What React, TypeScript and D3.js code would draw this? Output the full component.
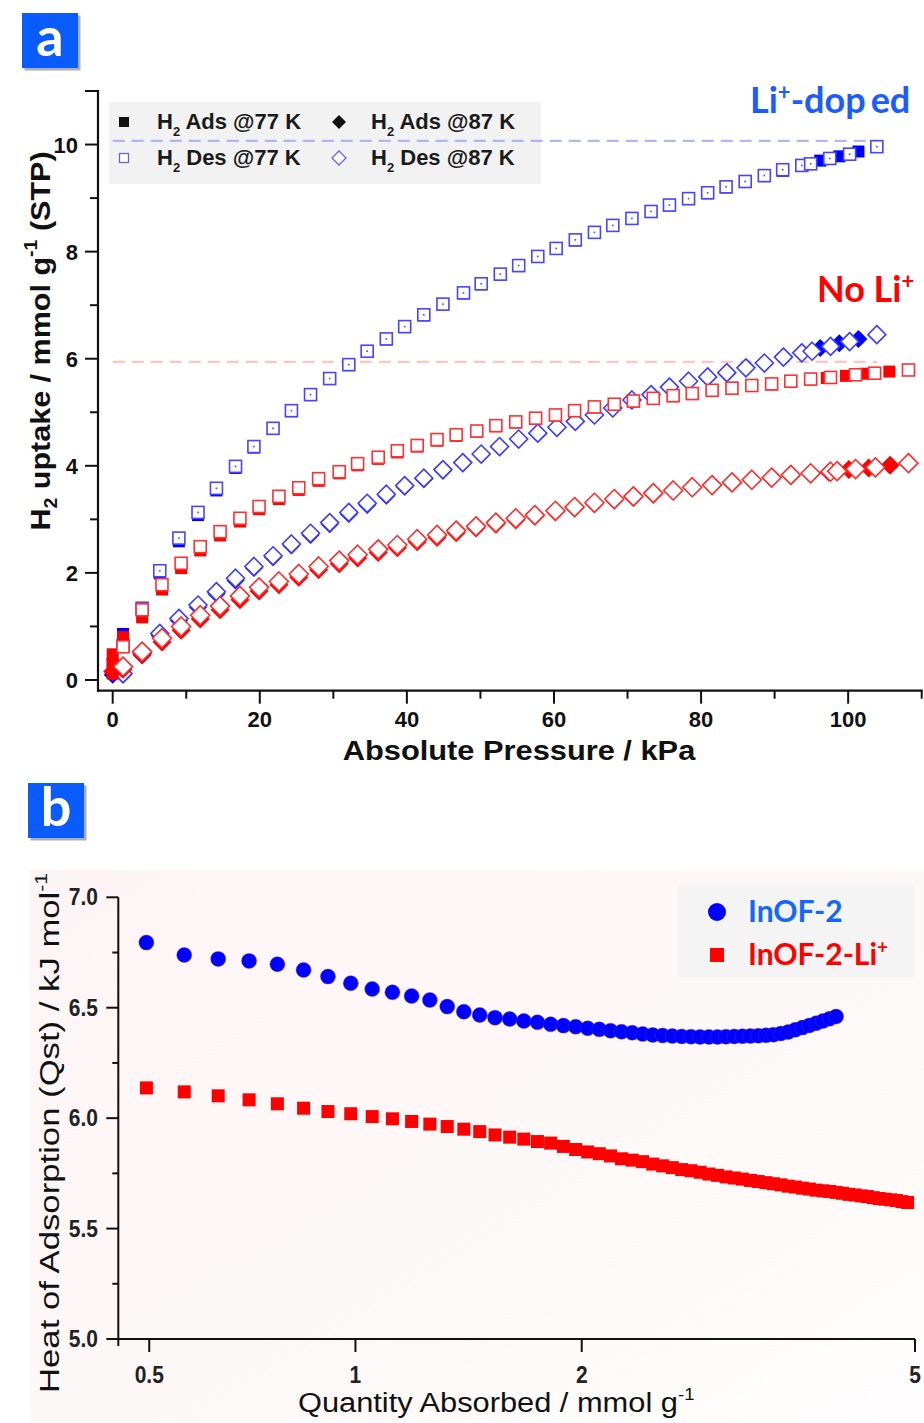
import React from 'react';
import * as d3 from 'd3';

const W = 924;
const H = 1423;

// ---------- Panel a: H2 isotherms (pressure kPa, uptake mmol/g) ----------
// Li+-doped, 77 K
const LI77_ADS_P = [0, 1.4, 4.0, 6.4, 9.0, 11.6, 14.1, 16.7, 19.2, 21.8, 24.3, 26.9, 29.5, 32.1, 34.6, 37.2, 39.7, 42.3, 44.9, 47.7, 50.1, 52.7, 55.2, 57.8, 60.3, 62.9, 65.5, 68.0, 70.6, 73.2, 75.7, 78.3, 80.9, 83.4, 86.0, 88.6, 91.1, 93.7, 96.2, 98.8, 101.4];
const LI77_ADS_Q = [0.30, 0.86, 1.30, 1.99, 2.59, 3.08, 3.54, 3.96, 4.34, 4.69, 5.02, 5.32, 5.62, 5.88, 6.13, 6.36, 6.59, 6.81, 7.01, 7.22, 7.39, 7.57, 7.73, 7.90, 8.05, 8.21, 8.35, 8.48, 8.61, 8.74, 8.86, 8.98, 9.09, 9.20, 9.30, 9.41, 9.51, 9.60, 9.70, 9.78, 9.87];
const LI77_DES_P = [1.4, 4.0, 6.4, 9.0, 11.6, 14.1, 16.7, 19.2, 21.8, 24.3, 26.9, 29.5, 32.1, 34.6, 37.2, 39.7, 42.3, 44.9, 47.7, 50.1, 52.7, 55.2, 57.8, 60.3, 62.9, 65.5, 68.0, 70.6, 73.2, 75.7, 78.3, 80.9, 83.4, 86.0, 88.6, 91.1, 93.7, 94.9, 97.5, 100.2, 103.9];
const LI77_DES_Q = [0.64, 1.34, 2.04, 2.65, 3.13, 3.58, 3.99, 4.36, 4.70, 5.03, 5.33, 5.63, 5.89, 6.14, 6.37, 6.60, 6.82, 7.02, 7.23, 7.40, 7.58, 7.74, 7.91, 8.06, 8.22, 8.36, 8.49, 8.62, 8.75, 8.87, 8.99, 9.10, 9.21, 9.31, 9.42, 9.53, 9.61, 9.64, 9.74, 9.82, 9.96];

// Li+-doped, 87 K
const LI87_ADS_P = [0, 1.4, 4.0, 6.4, 9.0, 11.6, 14.1, 16.7, 19.2, 21.8, 24.3, 26.9, 29.5, 32.1, 34.6, 37.2, 39.7, 42.3, 44.9, 47.6, 50.1, 52.6, 55.2, 57.8, 60.4, 62.9, 65.5, 68.0, 70.6, 73.2, 75.7, 78.3, 80.9, 83.5, 86.1, 88.6, 91.2, 93.7, 96.2, 98.8, 101.4];
const LI87_ADS_Q = [0.10, 0.10, 0.46, 0.83, 1.11, 1.36, 1.61, 1.86, 2.09, 2.29, 2.51, 2.71, 2.91, 3.10, 3.27, 3.44, 3.61, 3.75, 3.91, 4.05, 4.21, 4.35, 4.49, 4.60, 4.71, 4.82, 4.94, 5.07, 5.22, 5.32, 5.46, 5.57, 5.65, 5.73, 5.82, 5.91, 6.02, 6.10, 6.20, 6.29, 6.37];
const LI87_DES_P = [1.4, 4.0, 6.4, 9.0, 11.6, 14.1, 16.7, 19.2, 21.8, 24.3, 26.9, 29.5, 32.1, 34.6, 37.2, 39.7, 42.3, 44.9, 47.6, 50.1, 52.6, 55.2, 57.8, 60.4, 62.9, 65.5, 68.0, 70.6, 73.2, 75.7, 78.3, 80.9, 83.5, 86.1, 88.6, 91.2, 93.7, 95.1, 97.6, 100.2, 103.9];
const LI87_DES_Q = [0.12, 0.50, 0.87, 1.15, 1.40, 1.65, 1.90, 2.12, 2.32, 2.54, 2.74, 2.94, 3.13, 3.30, 3.47, 3.63, 3.77, 3.93, 4.06, 4.22, 4.36, 4.50, 4.61, 4.72, 4.83, 4.95, 5.08, 5.23, 5.33, 5.47, 5.58, 5.66, 5.74, 5.83, 5.92, 6.03, 6.11, 6.14, 6.23, 6.32, 6.45];

// No Li+, 77 K
const NO77_ADS_P = [0, 0, 0, 1.4, 4.0, 6.7, 9.3, 11.9, 14.6, 17.3, 19.9, 22.6, 25.3, 28.0, 30.8, 33.3, 36.1, 38.7, 41.4, 44.1, 46.7, 49.5, 52.1, 54.8, 57.5, 60.2, 62.8, 65.5, 68.2, 70.8, 73.5, 76.2, 78.8, 81.5, 84.2, 86.9, 89.6, 92.2, 94.9, 97.1, 99.7, 102.4, 105.6];
const NO77_ADS_Q = [0.12, 0.30, 0.48, 0.80, 1.17, 1.69, 2.09, 2.42, 2.70, 2.96, 3.19, 3.38, 3.55, 3.72, 3.86, 4.01, 4.13, 4.25, 4.36, 4.47, 4.56, 4.64, 4.74, 4.81, 4.88, 4.94, 5.02, 5.09, 5.14, 5.20, 5.25, 5.30, 5.34, 5.40, 5.44, 5.49, 5.52, 5.57, 5.61, 5.64, 5.68, 5.72, 5.76];
const NO77_DES_P = [1.4, 4.0, 6.7, 9.3, 11.9, 14.6, 17.3, 19.9, 22.6, 25.3, 28.0, 30.8, 33.3, 36.1, 38.7, 41.4, 44.1, 46.7, 49.5, 52.1, 54.8, 57.5, 60.2, 62.8, 65.5, 68.2, 70.8, 73.5, 76.2, 78.8, 81.5, 84.2, 86.9, 89.6, 92.2, 94.9, 97.6, 101.0, 103.6, 108.2];
const NO77_DES_Q = [0.62, 1.31, 1.78, 2.18, 2.49, 2.77, 3.02, 3.24, 3.43, 3.59, 3.76, 3.89, 4.04, 4.16, 4.28, 4.38, 4.49, 4.58, 4.65, 4.75, 4.82, 4.89, 4.95, 5.03, 5.10, 5.15, 5.21, 5.26, 5.31, 5.35, 5.41, 5.45, 5.50, 5.53, 5.58, 5.62, 5.65, 5.70, 5.73, 5.79];

// No Li+, 87 K
const NO87_ADS_P = [0, 1.4, 4.0, 6.7, 9.3, 11.9, 14.6, 17.3, 19.9, 22.6, 25.3, 28.0, 30.8, 33.3, 36.1, 38.7, 41.4, 44.1, 46.7, 49.4, 52.1, 54.8, 57.4, 60.2, 62.8, 65.5, 68.2, 70.8, 73.5, 76.2, 78.8, 81.5, 84.2, 86.9, 89.6, 92.2, 94.9, 97.4, 100.1, 102.8, 105.7];
const NO87_ADS_Q = [0.16, 0.20, 0.47, 0.71, 0.93, 1.14, 1.31, 1.50, 1.66, 1.78, 1.92, 2.06, 2.17, 2.28, 2.38, 2.47, 2.58, 2.66, 2.75, 2.84, 2.91, 2.99, 3.06, 3.14, 3.21, 3.29, 3.36, 3.41, 3.47, 3.53, 3.59, 3.63, 3.68, 3.73, 3.77, 3.82, 3.85, 3.88, 3.93, 3.96, 4.01];
const NO87_DES_P = [1.4, 4.0, 6.7, 9.3, 11.9, 14.6, 17.3, 19.9, 22.6, 25.3, 28.0, 30.8, 33.3, 36.1, 38.7, 41.4, 44.1, 46.7, 49.4, 52.1, 54.8, 57.4, 60.2, 62.8, 65.5, 68.2, 70.8, 73.5, 76.2, 78.8, 81.5, 84.2, 86.9, 89.6, 92.2, 94.9, 97.6, 98.5, 101.0, 103.7, 108.2];
const NO87_DES_Q = [0.25, 0.53, 0.78, 1.00, 1.21, 1.38, 1.57, 1.73, 1.84, 1.98, 2.12, 2.23, 2.34, 2.44, 2.52, 2.63, 2.71, 2.79, 2.87, 2.94, 3.02, 3.08, 3.16, 3.23, 3.31, 3.38, 3.43, 3.49, 3.54, 3.60, 3.64, 3.69, 3.74, 3.78, 3.83, 3.86, 3.89, 3.90, 3.94, 3.97, 4.05];

// Saturation guide levels (dashed lines)
const LI_LEVEL = 10.07;
const NO_LEVEL = 5.94;

const A_X_MAJOR = [0, 20, 40, 60, 80, 100];
const A_X_MINOR = [10, 30, 50, 70, 90, 110];
const A_Y_MAJOR = [0, 2, 4, 6, 8, 10];
const A_Y_MINOR = [1, 3, 5, 7, 9, 11];

// ---------- Panel b: isosteric heat of adsorption ----------
const INOF_N = [0.495, 0.565, 0.635, 0.705, 0.775, 0.845, 0.915, 0.985, 1.055, 1.125, 1.195, 1.265, 1.335, 1.405, 1.475, 1.545, 1.615, 1.685, 1.755, 1.825, 1.895, 1.965, 2.035, 2.105, 2.175, 2.245, 2.315, 2.385, 2.455, 2.525, 2.595, 2.665, 2.735, 2.805, 2.875, 2.945, 3.015, 3.085, 3.155, 3.225, 3.295, 3.365, 3.435, 3.505, 3.575, 3.645, 3.715, 3.785, 3.855, 3.925, 3.995, 4.065];
const INOF_Q = [6.795, 6.739, 6.721, 6.712, 6.697, 6.671, 6.641, 6.611, 6.585, 6.570, 6.553, 6.535, 6.505, 6.482, 6.467, 6.455, 6.449, 6.440, 6.434, 6.425, 6.419, 6.414, 6.407, 6.402, 6.396, 6.391, 6.387, 6.381, 6.377, 6.374, 6.372, 6.370, 6.369, 6.368, 6.368, 6.368, 6.369, 6.370, 6.371, 6.372, 6.373, 6.375, 6.378, 6.383, 6.390, 6.400, 6.410, 6.420, 6.430, 6.440, 6.450, 6.460];

const INOFLI_N = [0.495, 0.565, 0.635, 0.705, 0.775, 0.845, 0.915, 0.985, 1.055, 1.125, 1.195, 1.265, 1.335, 1.405, 1.475, 1.545, 1.615, 1.685, 1.755, 1.825, 1.895, 1.965, 2.035, 2.105, 2.175, 2.245, 2.315, 2.385, 2.455, 2.525, 2.595, 2.665, 2.735, 2.805, 2.875, 2.945, 3.015, 3.085, 3.155, 3.225, 3.295, 3.365, 3.435, 3.505, 3.575, 3.645, 3.715, 3.785, 3.855, 3.925, 3.995, 4.065, 4.135, 4.205, 4.275, 4.345, 4.415, 4.485, 4.555, 4.625, 4.695, 4.765, 4.835, 4.905];
const INOFLI_Q = [6.137, 6.119, 6.101, 6.083, 6.065, 6.045, 6.030, 6.020, 6.007, 5.997, 5.985, 5.973, 5.962, 5.950, 5.939, 5.924, 5.914, 5.905, 5.894, 5.887, 5.872, 5.858, 5.847, 5.839, 5.829, 5.816, 5.810, 5.803, 5.792, 5.784, 5.776, 5.767, 5.762, 5.755, 5.747, 5.741, 5.734, 5.729, 5.724, 5.718, 5.713, 5.708, 5.703, 5.698, 5.692, 5.688, 5.683, 5.679, 5.674, 5.671, 5.668, 5.664, 5.660, 5.655, 5.652, 5.648, 5.645, 5.640, 5.636, 5.633, 5.630, 5.627, 5.622, 5.618];

const B_X_TICKS = [0.5, 1, 2, 5];
const B_X_LABELS = ['0.5', '1', '2', '5'];
const B_Y_MAJOR = [5.0, 5.5, 6.0, 6.5, 7.0];
const B_Y_MINOR = [5.25, 5.75, 6.25, 6.75];

// ---------- scales ----------
const xA = d3.scaleLinear().domain([-2, 110]).range([98, 921.7]);
const yA = d3.scaleLinear().domain([-0.2, 11]).range([690.7, 91]);
const xB = d3.scalePow().exponent(0.134).domain([0.448, 5]).range([118.3, 915]);
const yB = d3.scaleLinear().domain([5, 7]).range([1339, 897.3]);

const ARIAL = "'Liberation Sans', Arial, sans-serif";
const HUMAN = "Lato, 'Open Sans', sans-serif";

const BLUE = '#0000ff';
const RED = '#ff0000';

const diamondPath = (cx: number, cy: number, r: number) =>
  `M${cx},${cy - r}L${cx + r},${cy}L${cx},${cy + r}L${cx - r},${cy}Z`;

type Pts = { p: number[]; q: number[] };
const zipPts = ({ p, q }: Pts) => p.map((v, i) => [v, q[i]] as [number, number]);

function Squares({ data, fill, stroke, size, dot }: { data: Pts; fill: string; stroke: string; size: number; dot?: boolean }) {
  return (
    <g>
      {zipPts(data).map(([p, q], i) => {
        const cx = xA(p);
        const cy = yA(q);
        return (
          <g key={i}>
            <rect x={cx - size / 2} y={cy - size / 2} width={size} height={size}
              fill={fill} stroke={stroke} strokeWidth={fill === 'white' ? 1.6 : 0} />
            {dot ? <rect x={cx - 0.8} y={cy - 0.8} width={1.6} height={1.6} fill={stroke} /> : null}
          </g>
        );
      })}
    </g>
  );
}

function Diamonds({ data, fill, stroke, r }: { data: Pts; fill: string; stroke: string; r: number }) {
  return (
    <g>
      {zipPts(data).map(([p, q], i) => (
        <path key={i} d={diamondPath(xA(p), yA(q), r)} fill={fill} stroke={stroke}
          strokeWidth={fill === 'white' ? 1.6 : 0} />
      ))}
    </g>
  );
}

function Badge({ x, y, label }: { x: number; y: number; label: string }) {
  return (
    <g>
      <rect x={x + 2.5} y={y + 2.5} width={56} height={55} fill="#8c8c8c" opacity={0.7} />
      <rect x={x} y={y} width={56} height={55} fill="#0a5cff" />
      <text x={x + 28} y={y + 43} textAnchor="middle" fill="white" fontFamily={HUMAN}
        fontWeight={700} fontSize={54}>{label}</text>
    </g>
  );
}

function PanelA() {
  const axisY = xA(-2);
  const axisX = yA(-0.2);
  return (
    <g>
      <Badge x={22} y={13} label="a" />

      {/* legend background */}
      <rect x={109} y={102} width={432} height={82} fill="#f2f2f2" />

      {/* saturation guides */}
      <line x1={xA(0)} x2={xA(104)} y1={yA(LI_LEVEL)} y2={yA(LI_LEVEL)} stroke="#a9aefc"
        strokeWidth={2.2} strokeDasharray="12 7" opacity={0.9} />
      <line x1={xA(0)} x2={xA(104)} y1={yA(NO_LEVEL)} y2={yA(NO_LEVEL)} stroke="#ffc4c4"
        strokeWidth={2.2} strokeDasharray="12 7" />

      {/* Li+-doped series */}
      <Squares data={{ p: LI77_ADS_P, q: LI77_ADS_Q }} fill={BLUE} stroke={BLUE} size={12} />
      <Squares data={{ p: LI77_DES_P, q: LI77_DES_Q }} fill="white" stroke="#4646ff" size={12} dot />
      <Diamonds data={{ p: LI87_ADS_P, q: LI87_ADS_Q }} fill={BLUE} stroke={BLUE} r={9} />
      <Diamonds data={{ p: LI87_DES_P, q: LI87_DES_Q }} fill="white" stroke="#3c3cff" r={9} />

      {/* No Li+ series */}
      <Squares data={{ p: NO77_ADS_P, q: NO77_ADS_Q }} fill={RED} stroke={RED} size={12} />
      <Squares data={{ p: NO77_DES_P, q: NO77_DES_Q }} fill="white" stroke="#ff3030" size={12} />
      <Diamonds data={{ p: NO87_ADS_P, q: NO87_ADS_Q }} fill={RED} stroke={RED} r={9.5} />
      <Diamonds data={{ p: NO87_DES_P, q: NO87_DES_Q }} fill="white" stroke="#ff2a2a" r={9.5} />

      {/* axes */}
      <line x1={axisY} x2={axisY} y1={yA(11) - 1} y2={axisX + 1} stroke="#111" strokeWidth={2.2} />
      <line x1={axisY - 1} x2={xA(110) + 1} y1={axisX} y2={axisX} stroke="#111" strokeWidth={2.2} />
      {A_Y_MAJOR.map((v) => (
        <g key={`ym${v}`}>
          <line x1={axisY - 13} x2={axisY} y1={yA(v)} y2={yA(v)} stroke="#111" strokeWidth={2} />
          <text x={78} y={yA(v) + 8} textAnchor="end" fontFamily={ARIAL} fontWeight={700}
            fontSize={22} fill="#111">{v}</text>
        </g>
      ))}
      {A_Y_MINOR.map((v) => (
        <line key={`yn${v}`} x1={axisY - (v === 11 ? 13 : 8)} x2={axisY} y1={yA(v)} y2={yA(v)}
          stroke="#111" strokeWidth={2} />
      ))}
      {A_X_MAJOR.map((v) => (
        <g key={`xm${v}`}>
          <line x1={xA(v)} x2={xA(v)} y1={axisX} y2={axisX + 13} stroke="#111" strokeWidth={2} />
          <text x={xA(v)} y={727} textAnchor="middle" fontFamily={ARIAL} fontWeight={700}
            fontSize={22} fill="#111">{v}</text>
        </g>
      ))}
      {A_X_MINOR.map((v) => (
        <line key={`xn${v}`} x1={xA(v)} x2={xA(v)} y1={axisX} y2={axisX + 8} stroke="#111" strokeWidth={2} />
      ))}

      {/* axis titles */}
      <text transform="translate(519,760) scale(1.1,1)" textAnchor="middle" fontFamily={ARIAL}
        fontWeight={700} fontSize={28} fill="#111">
        Absolute Pressure / kPa
      </text>
      <text transform="translate(50,341) rotate(-90) scale(1.09,1)" textAnchor="middle" fontFamily={ARIAL}
        fontWeight={700} fontSize={28} fill="#111">
        <tspan>H</tspan>
        <tspan dy={7} fontSize={18}>2</tspan>
        <tspan dy={-7}> uptake / mmol g</tspan>
        <tspan dy={-13} fontSize={18}>-1</tspan>
        <tspan dy={13}> (STP)</tspan>
      </text>

      {/* legend */}
      <rect x={119} y={117} width={10} height={10} fill="#111" />
      <rect x={119.5} y={153.5} width={9} height={9} fill="white" stroke="#6a6ab8" strokeWidth={1.3} />
      <path d={diamondPath(339, 122, 7)} fill="#111" />
      <path d={diamondPath(339, 158, 7)} fill="white" stroke="#6464e0" strokeWidth={1.3} />
      {[
        { x: 157, y: 129, t: 'Ads @77 K' },
        { x: 157, y: 165, t: 'Des @77 K' },
        { x: 371, y: 129, t: 'Ads @87 K' },
        { x: 371, y: 165, t: 'Des @87 K' },
      ].map((e) => (
        <text key={`${e.x}-${e.y}`} x={e.x} y={e.y} fontFamily={ARIAL} fontWeight={700} fontSize={22} fill="#1a1a1a">
          <tspan>H</tspan>
          <tspan dy={7} fontSize={13}>2</tspan>
          <tspan dy={-7}>{` ${e.t}`}</tspan>
        </text>
      ))}

      {/* series annotations */}
      <text x={750} y={113} fontFamily={HUMAN} fontWeight={700} fontSize={36} fill="#1a5cff">
        <tspan>Li</tspan>
        <tspan dy={-13} fontSize={22}>+</tspan>
        <tspan dy={13}>-dop</tspan>
        <tspan dx={5}>ed</tspan>
      </text>
      <text x={817} y={302} fontFamily={HUMAN} fontWeight={700} fontSize={36} fill="#ff0000">
        <tspan>No Li</tspan>
        <tspan dy={-13} fontSize={22}>+</tspan>
      </text>
    </g>
  );
}

function PanelB() {
  const axisLeft = xB(0.448);
  const axisBottom = yB(5);
  return (
    <g>
      <defs>
        <linearGradient id="bgB" x1="0" y1="0" x2="1" y2="1">
          <stop offset="0" stopColor="#fdf5f5" />
          <stop offset="0.55" stopColor="#fdf8f8" />
          <stop offset="1" stopColor="#fffdfd" />
        </linearGradient>
      </defs>
      <rect x={30} y={870} width={894} height={551} fill="url(#bgB)" />
      <Badge x={28} y={783} label="b" />

      {/* legend */}
      <rect x={678} y={885} width={236} height={92} fill="#f4f4f4" />
      <circle cx={717} cy={912} r={9} fill={BLUE} />
      <rect x={710} y={948} width={14} height={14} fill={RED} />
      <text x={748} y={922} fontFamily={HUMAN} fontWeight={700} fontSize={30} fill="#1466ff">InOF-2</text>
      <text x={748} y={965} fontFamily={HUMAN} fontWeight={700} fontSize={30} fill="#ff0000">
        <tspan>InOF-2-Li</tspan>
        <tspan dy={-11} fontSize={19}>+</tspan>
      </text>

      {/* data */}
      {INOFLI_N.map((n, i) => (
        <rect key={`r${i}`} x={xB(n) - 6.5} y={yB(INOFLI_Q[i]) - 6.5} width={13} height={13} fill={RED} />
      ))}
      {INOF_N.map((n, i) => (
        <circle key={`c${i}`} cx={xB(n)} cy={yB(INOF_Q[i])} r={7.5} fill={BLUE} stroke="#5a2bd0" strokeWidth={0.4} />
      ))}

      {/* axes */}
      <line x1={axisLeft} x2={axisLeft} y1={yB(7)} y2={axisBottom + 7} stroke="#111" strokeWidth={2} />
      <line x1={axisLeft} x2={xB(5)} y1={axisBottom} y2={axisBottom} stroke="#111" strokeWidth={2} />
      {B_Y_MAJOR.map((v) => (
        <g key={`bym${v}`}>
          <line x1={axisLeft - 12} x2={axisLeft} y1={yB(v)} y2={yB(v)} stroke="#111" strokeWidth={2} />
          <text transform={`translate(98,${yB(v) + 8}) scale(1,1.12)`} textAnchor="end" fontFamily={ARIAL}
            fontWeight={700} fontSize={21} fill="#222">{v.toFixed(1)}</text>
        </g>
      ))}
      {B_Y_MINOR.map((v) => (
        <line key={`byn${v}`} x1={axisLeft - 6} x2={axisLeft} y1={yB(v)} y2={yB(v)} stroke="#111" strokeWidth={2} />
      ))}
      {B_X_TICKS.map((v, i) => (
        <g key={`bx${v}`}>
          <line x1={xB(v)} x2={xB(v)} y1={axisBottom} y2={axisBottom + 13} stroke="#111" strokeWidth={2} />
          <text transform={`translate(${xB(v)},1383) scale(1,1.12)`} textAnchor="middle" fontFamily={ARIAL}
            fontWeight={700} fontSize={21} fill="#222">{B_X_LABELS[i]}</text>
        </g>
      ))}

      {/* axis titles */}
      <text transform="translate(298,1412) scale(1.1,1)" fontFamily={ARIAL} fontSize={28} fill="#111">
        <tspan>Quantity Absorbed / mmol g</tspan>
        <tspan dy={-12} fontSize={17}>-1</tspan>
      </text>
      <text transform="translate(59,1393) rotate(-90) scale(1.24,1)" fontFamily={ARIAL} fontSize={28} fill="#111">
        <tspan>Heat of Adsorption (Qst) / kJ mol</tspan>
        <tspan dy={-12} fontSize={17}>-1</tspan>
      </text>
    </g>
  );
}

export default function App() {
  return (
    <svg width={W} height={H} viewBox={`0 0 ${W} ${H}`}
      style={{ position: 'absolute', left: 0, top: 0, background: 'white' }}>
      <rect x={0} y={0} width={W} height={H} fill="white" />
      <PanelA />
      <PanelB />
    </svg>
  );
}
